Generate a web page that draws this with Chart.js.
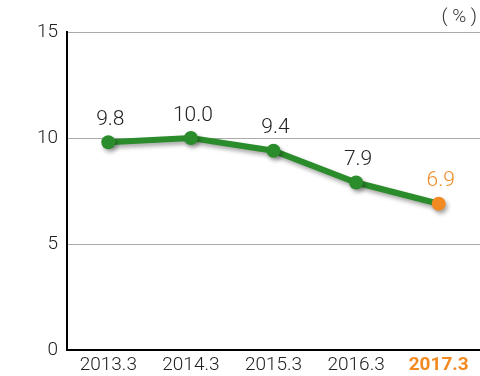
<!DOCTYPE html>
<html>
<head>
<meta charset="utf-8">
<script src="https://cdn.jsdelivr.net/npm/chart.js@4"></script>
<style>
  html, body { margin: 0; padding: 0; background: #fff; overflow: hidden; }
  /* el lienzo es un poco mas ancho para que el area del grafico llegue al borde derecho */
  #wrap { position: absolute; left: 0; top: 0; width: 487px; height: 376px; }
</style>
</head>
<body>
<div id="wrap"><canvas id="grafica"></canvas></div>
<script>
const periodos = ['2013.3', '2014.3', '2015.3', '2016.3', '2017.3']; // categorias del eje x
const valores = [9.8, 10.0, 9.4, 7.9, 6.9]; // porcentaje de cada periodo
const ticksY = [0, 5, 10, 15]; // marcas del eje y

const verde = '#2a8c2a';
const naranja = '#f28a22';
const fuente = "Roboto, sans-serif";
const ultimo = periodos.length - 1;

// etiquetas encima de cada punto y la unidad arriba a la derecha
const etiquetas = {
  id: 'etiquetas',
  afterDatasetsDraw(chart) {
    const ctx = chart.ctx;
    const meta = chart.getDatasetMeta(0);
    ctx.save();
    ctx.textAlign = 'center';
    ctx.textBaseline = 'bottom';
    meta.data.forEach((p, i) => {
      ctx.fillStyle = i === ultimo ? naranja : '#222';
      ctx.font = '300 21px ' + fuente;
      ctx.fillText(valores[i].toFixed(1), p.x + 2, p.y - 12);
    });
    ctx.fillStyle = '#333';
    ctx.font = '300 19px ' + fuente;
    ctx.textAlign = 'right';
    ctx.fillText('( % )', 477, 27);
    ctx.restore();
  }
};

// sombra suave para la linea y los puntos
const sombra = {
  id: 'sombra',
  beforeDatasetsDraw(chart) {
    const ctx = chart.ctx;
    ctx.save();
    ctx.shadowColor = 'rgba(0,0,0,0.35)';
    ctx.shadowBlur = 4;
    ctx.shadowOffsetX = 2;
    ctx.shadowOffsetY = 3;
  },
  afterDatasetsDraw(chart) {
    chart.ctx.restore();
  }
};

new Chart(document.getElementById('grafica'), {
  type: 'line',
  data: {
    labels: periodos,
    datasets: [{
      data: valores,
      borderColor: verde,
      borderWidth: 6,
      pointRadius: 7,
      pointHoverRadius: 7,
      pointBorderWidth: 0,
      pointBackgroundColor: valores.map((v, i) => i === ultimo ? naranja : verde),
      tension: 0
    }]
  },
  options: {
    responsive: true,
    maintainAspectRatio: false,
    animation: false,
    layout: { padding: { top: 32, right: 0, left: 0, bottom: 0 } },
    plugins: { legend: { display: false }, tooltip: { enabled: false } },
    scales: {
      x: {
        offset: true,
        grid: { display: false, drawTicks: false },
        border: { color: '#000', width: 2 },
        ticks: {
          padding: 4,
          color: ctx => ctx.index === ultimo ? naranja : '#222',
          font: ctx => ({ family: fuente, size: 19, weight: ctx.index === ultimo ? 'bold' : '300' })
        },
        afterFit(axis) { axis.height = 26; }
      },
      y: {
        min: 0,
        max: 15,
        afterBuildTicks(axis) { axis.ticks = ticksY.map(v => ({ value: v })); },
        grid: { color: '#aaa', lineWidth: 1, drawTicks: false },
        border: { color: '#000', width: 2 },
        ticks: { padding: 9, color: '#222', font: { family: fuente, size: 19, weight: '300' } },
        afterFit(axis) { axis.width = 67; }
      }
    }
  },
  plugins: [sombra, etiquetas]
});
</script>
</body>
</html>
